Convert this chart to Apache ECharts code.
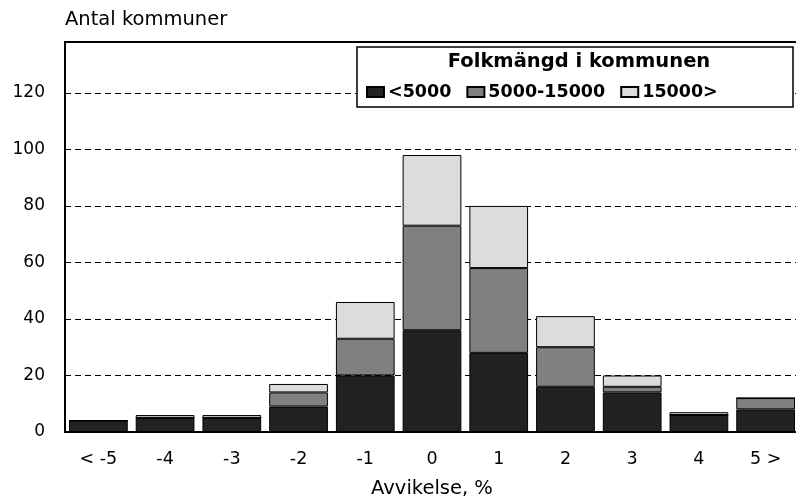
<!DOCTYPE html>
<html>
<head>
<meta charset="utf-8">
<script src="https://cdn.jsdelivr.net/npm/echarts@6/dist/echarts.min.js"></script>
<style>
  html, body { margin: 0; padding: 0; background: #fff; }
  #chart { width: 796px; height: 500px; }
</style>
</head>
<body>
<div id="chart"></div>
<script>
// kategorier: avvikelse i procent
const categories = ["< -5", "-4", "-3", "-2", "-1", "0", "1", "2", "3", "4", "5 >"];
// antal kommuner per storleksklass
const small = [4, 5, 5, 9, 20, 36, 28, 16, 14, 6, 8];      // <5000
const medium = [0, 0, 0, 5, 13, 37, 30, 14, 2, 0, 4];     // 5000-15000
const large = [0, 1, 1, 3, 13, 25, 22, 11, 4, 1, 0];      // 15000>
const seriesNames = ["<5000", "5000-15000", "15000>"];
const colors = ["#222222", "#808080", "#dcdcdc"];

const font = "DejaVu Sans";
const myChart = echarts.init(document.getElementById("chart"));

function makeSeries(name, values, color) {
  return {
    name: name,
    type: "bar",
    stack: "total",
    data: values,
    barCategoryGap: "12%",
    itemStyle: {
      color: color,
      borderColor: "#000",
      borderWidth: 1,
    },
  };
}

myChart.setOption({
  animation: false,
  grid: {
    left: 65,
    top: 42,
    width: 734,
    height: 390,
    outerBoundsMode: "none",
    containLabel: false,
    show: true,
    borderColor: "#000",
    borderWidth: 2,
    backgroundColor: "transparent",
  },
  graphic: [
    {
      type: "rect",
      z: 3,
      shape: { x: 357, y: 47, width: 436, height: 60 },
      style: { fill: "#fff", stroke: "#000", lineWidth: 1.5 },
    },
    {
      type: "text",
      z: 5,
      x: 579,
      y: 62,
      style: {
        text: "Folkmängd i kommunen",
        fill: "#000",
        font: "bold 19.5px '" + font + "'",
        textAlign: "center",
        textVerticalAlign: "middle",
      },
    },
  ],
  legend: {
    data: seriesNames,
    left: 366,
    top: 83,
    padding: 0,
    itemGap: 15,
    itemWidth: 17,
    itemHeight: 10,
    icon: "rect",
    textStyle: {
      color: "#000",
      fontFamily: font,
      fontWeight: "bold",
      fontSize: 17.5,
      padding: [0, 0, 0, -1],
    },
  },
  xAxis: {
    type: "category",
    data: categories,
    name: "Avvikelse, %",
    nameLocation: "middle",
    nameGap: 47,
    nameTextStyle: { color: "#000", fontFamily: font, fontSize: 19.5 },
    axisLine: { lineStyle: { color: "#000", width: 2 } },
    axisTick: { show: false },
    axisLabel: { color: "#000", fontFamily: font, fontSize: 17.5, margin: 18 },
  },
  yAxis: {
    type: "value",
    min: 0,
    max: 138,
    interval: 20,
    name: "Antal kommuner",
    nameLocation: "end",
    nameGap: 12,
    nameTextStyle: { color: "#000", fontFamily: font, fontSize: 19.5, align: "left" },
    axisLine: { show: true, lineStyle: { color: "#000", width: 2 } },
    axisTick: { show: false },
    axisLabel: { color: "#000", fontFamily: font, fontSize: 17, margin: 20, showMaxLabel: false },
    splitLine: { lineStyle: { color: "#000", type: [6, 4], width: 1 } },
  },
  series: [
    makeSeries(seriesNames[0], small, colors[0]),
    makeSeries(seriesNames[1], medium, colors[1]),
    makeSeries(seriesNames[2], large, colors[2]),
  ],
});
</script>
</body>
</html>
